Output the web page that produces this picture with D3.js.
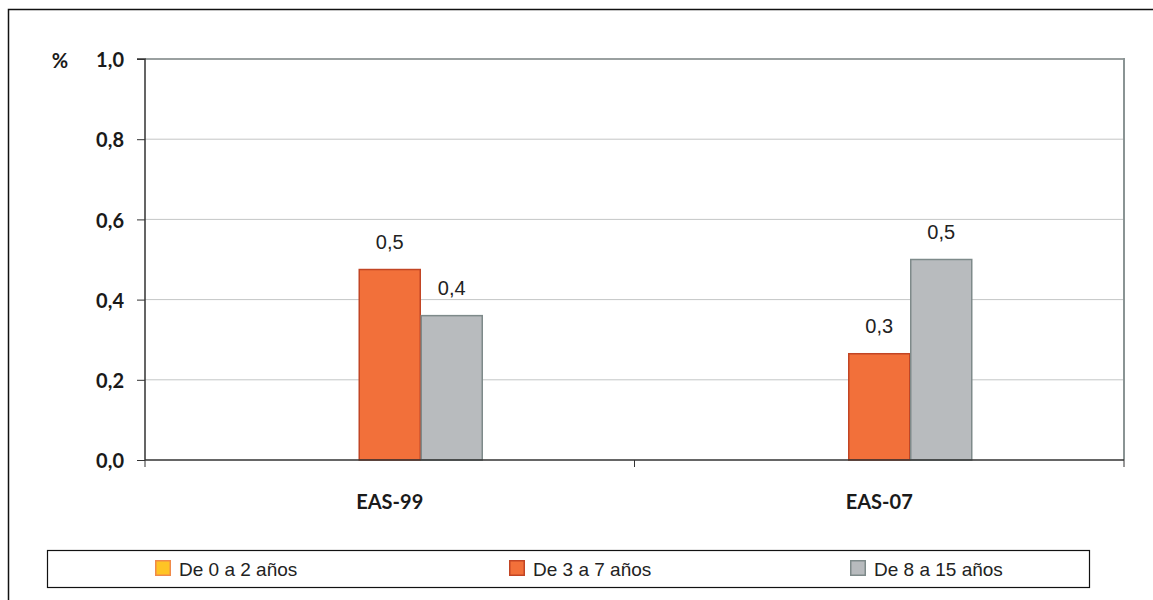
<!DOCTYPE html>
<html><head><meta charset="utf-8">
<script src="https://cdn.jsdelivr.net/npm/d3@7"></script>
<style>body{margin:0;background:#fff}svg{display:block}</style>
</head><body><svg id="c" width="1153" height="600"></svg>
<script>
const categories = ["EAS-99", "EAS-07"];
const seriesNames = ["De 0 a 2 años", "De 3 a 7 años", "De 8 a 15 años"];
const s0 = [0, 0];
const s1 = [0.475, 0.265];
const s2 = [0.36, 0.50];
const labels1 = ["0,5", "0,3"];
const labels2 = ["0,4", "0,5"];
const yTicks = [0, 0.2, 0.4, 0.6, 0.8, 1.0];

const fills = ["#FFC425", "#F2703A", "#B8BBBE"];
const strokes = ["#F08A4A", "#C24524", "#7E8A8A"];

const boldFont = "Lato,'Open Sans',sans-serif";
const condFont = "'Liberation Sans Narrow','Liberation Sans',Arial,sans-serif";

const svg = d3.select("#c");
const M = {l:145, r:1124, t:59, b:460};

// outer frame
svg.append("path").attr("d","M8.5,640 V9.5 H1200").attr("fill","none").attr("stroke","#111").attr("stroke-width",1.5);

const x0 = d3.scaleBand().domain(categories).range([M.l, M.r]);
const x1 = d3.scaleBand().domain(seriesNames).range([0, 186]);
const y = d3.scaleLinear().domain([0,1]).range([M.b, M.t]);

// gridlines
svg.append("g").selectAll("line").data(yTicks.filter(d=>d>0)).join("line")
  .attr("x1",M.l).attr("x2",M.r).attr("y1",d=>y(d)).attr("y2",d=>y(d))
  .attr("stroke",d=>d===1?"#9aa0a0":"#c4c6c6").attr("stroke-width",d=>d===1?2:1);
// right border
svg.append("line").attr("x1",M.r).attr("x2",M.r).attr("y1",M.t-1).attr("y2",M.b)
  .attr("stroke","#8a9494").attr("stroke-width",2);

const series = [s0, s1, s2];
const data = [];
categories.forEach((c,i)=>series.forEach((s,j)=>data.push({c, name:seriesNames[j], v:s[i], j})));

svg.append("g").selectAll("rect").data(data.filter(d=>d.v>0)).join("rect")
  .attr("x",d=>x0(d.c)+(x0.bandwidth()-186)/2+x1(d.name)+0.5)
  .attr("y",d=>y(d.v))
  .attr("width",x1.bandwidth()-1)
  .attr("height",d=>y(0)-y(d.v))
  .attr("fill",d=>fills[d.j]).attr("stroke",d=>strokes[d.j]).attr("stroke-width",1.5);

// value labels
const lab = [];
categories.forEach((c,i)=>{lab.push({c,name:seriesNames[1],v:s1[i],t:labels1[i]});lab.push({c,name:seriesNames[2],v:s2[i],t:labels2[i]});});
svg.append("g").selectAll("text").data(lab).join("text")
  .attr("x",d=>x0(d.c)+(x0.bandwidth()-186)/2+x1(d.name)+x1.bandwidth()/2)
  .attr("y",d=>y(d.v)-20.5)
  .attr("text-anchor","middle")
  .attr("font-family",condFont)
  .attr("font-size",20).attr("fill","#222").text(d=>d.t);

// y axis
const yAxis = svg.append("g").attr("transform",`translate(${M.l},0)`)
  .call(d3.axisLeft(y).tickValues(yTicks).tickSize(8).tickPadding(13).tickFormat(d=>d3.format(".1f")(d).replace(".",",")));
yAxis.select(".domain").attr("stroke","#333").attr("stroke-width",1.5).attr("d",`M-8,${M.t}H0V${M.b}`);
yAxis.selectAll(".tick line").attr("stroke","#333");
yAxis.selectAll("text").attr("font-family",boldFont).attr("font-weight","bold").attr("font-size",20).attr("dy","0.38em").attr("fill","#1a1a1a");

// x axis
const xAxis = svg.append("g").attr("transform",`translate(0,${M.b})`)
  .call(d3.axisBottom(x0).tickSize(0).tickPadding(35));
xAxis.select(".domain").attr("stroke","#333").attr("stroke-width",1.5).attr("d",`M${M.l},0H${M.r}`);
xAxis.selectAll("text").attr("font-family",boldFont).attr("font-weight","bold").attr("font-size",20).attr("fill","#1a1a1a");
// category boundary ticks
svg.append("g").selectAll("line").data([M.l, (M.l+M.r)/2, M.r]).join("line")
  .attr("x1",d=>d).attr("x2",d=>d).attr("y1",M.b).attr("y2",M.b+7).attr("stroke","#333");

svg.append("text").attr("x",60).attr("y",M.t+9).attr("text-anchor","middle")
  .attr("font-family",boldFont).attr("font-weight","bold").attr("font-size",20).attr("fill","#1a1a1a").text("%");

// legend
svg.append("rect").attr("x",47.5).attr("y",550.5).attr("width",1042).attr("height",37).attr("fill","#fff").attr("stroke","#111").attr("stroke-width",1.2);
const legX = [155, 509, 850];
const lg = svg.append("g").selectAll("g").data(seriesNames).join("g").attr("transform",(d,i)=>`translate(${legX[i]},560)`);
lg.append("rect").attr("x",0.75).attr("y",0.75).attr("width",14.5).attr("height",14.5)
  .attr("fill",(d,i)=>fills[i]).attr("stroke",(d,i)=>strokes[i]).attr("stroke-width",1.5);
lg.append("text").attr("x",24).attr("y",16).attr("font-family",condFont)
  .attr("font-size",19).attr("fill","#222").text(d=>d);
</script></body></html>
